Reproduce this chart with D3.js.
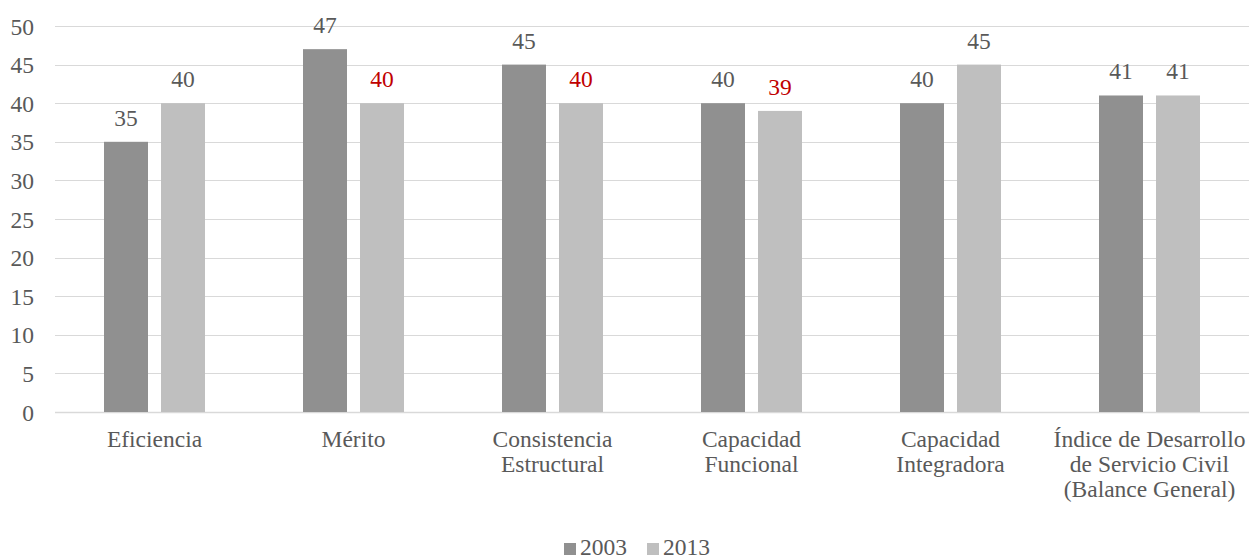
<!DOCTYPE html>
<html>
<head>
<meta charset="utf-8">
<script src="https://cdn.jsdelivr.net/npm/d3@7"></script>
<style>
  body { margin: 0; background: #fff; }
</style>
</head>
<body>
<svg id="chart" width="1249" height="558"></svg>
<script>
// Categories (each label split into display lines)
const categories = [
  ["Eficiencia"],
  ["Mérito"],
  ["Consistencia", "Estructural"],
  ["Capacidad", "Funcional"],
  ["Capacidad", "Integradora"],
  ["Índice de Desarrollo", "de Servicio Civil", "(Balance General)"]
];
const seriesNames = ["2003", "2013"];
const values2003 = [35, 47, 45, 40, 40, 41];
const values2013 = [40, 40, 40, 39, 45, 41];
// 2013 labels highlighted in red
const highlighted2013 = [false, true, true, true, false, false];
const yTicks = [0, 5, 10, 15, 20, 25, 30, 35, 40, 45, 50];

const colors = ["#909090", "#bfbfbf"];
const textColor = "#595959";
const redColor = "#c00000";
const FONT = "'Liberation Serif', 'Times New Roman', serif";
const FS = "23.5px";

const svg = d3.select("#chart");
const plotLeft = 55, plotRight = 1249, plotTop = 26, plotBottom = 412;

const x = d3.scaleBand()
  .domain(d3.range(categories.length))
  .range([plotLeft, plotRight])
  .paddingInner(0).paddingOuter(0);

const y = d3.scaleLinear().domain([0, 50]).range([plotBottom, plotTop]);

const barW = 44, barGap = 13;
const groupW = barW * 2 + barGap;
const barX = (i, s) => x(i) + (x.bandwidth() - groupW) / 2 + s * (barW + barGap);

const styleText = sel => sel.style("font-family", FONT).style("font-size", FS);

// Gridlines
svg.append("g")
  .selectAll("line")
  .data(yTicks)
  .join("line")
  .attr("x1", plotLeft).attr("x2", plotRight)
  .attr("y1", d => Math.round(y(d)) + 0.5)
  .attr("y2", d => Math.round(y(d)) + 0.5)
  .attr("stroke", "#d9d9d9")
  .attr("stroke-width", d => d === 0 ? 1.5 : 1.2);

// Y axis labels
const yAxis = d3.axisLeft(y).tickValues(yTicks).tickSize(0).tickPadding(0);
const gy = svg.append("g").attr("transform", `translate(${plotLeft - 21},0)`).call(yAxis);
gy.select(".domain").remove();
gy.selectAll("text")
  .call(styleText)
  .attr("fill", textColor)
  .attr("text-anchor", "end")
  .attr("dy", "0.34em");

// Bars and value labels
const seriesData = [values2003, values2013];
seriesData.forEach((vals, s) => {
  const g = svg.append("g");
  g.selectAll("rect")
    .data(vals)
    .join("rect")
    .attr("x", (d, i) => barX(i, s))
    .attr("width", barW)
    .attr("y", d => y(d))
    .attr("height", d => plotBottom - y(d))
    .attr("fill", colors[s]);

  g.selectAll("text")
    .data(vals)
    .join("text")
    .attr("x", (d, i) => barX(i, s) + barW / 2)
    .attr("y", d => y(d) - 16)
    .attr("text-anchor", "middle")
    .call(styleText)
    .attr("fill", (d, i) => (s === 1 && highlighted2013[i]) ? redColor : textColor)
    .text(d => d);
});

// Category labels
const cat = svg.append("g");
categories.forEach((lines, i) => {
  const cx = x(i) + x.bandwidth() / 2;
  const t = cat.append("text")
    .attr("text-anchor", "middle")
    .call(styleText)
    .attr("fill", textColor);
  lines.forEach((ln, k) => {
    t.append("tspan")
      .attr("x", cx)
      .attr("y", 447 + k * 25)
      .text(ln);
  });
});

// Legend
const legend = svg.append("g");
const legendX = [564, 647];
seriesNames.forEach((name, s) => {
  legend.append("rect")
    .attr("x", legendX[s]).attr("y", 543)
    .attr("width", 12).attr("height", 12)
    .attr("fill", colors[s]);
  legend.append("text")
    .attr("x", legendX[s] + 16).attr("y", 555)
    .call(styleText)
    .attr("fill", textColor)
    .text(name);
});
</script>
</body>
</html>
